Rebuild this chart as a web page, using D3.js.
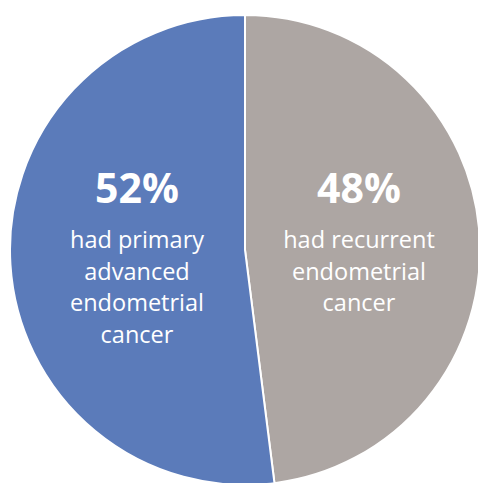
<!DOCTYPE html>
<html><head><meta charset="utf-8">
<script src="https://cdn.jsdelivr.net/npm/d3@7"></script>
<style>body{margin:0;background:#fff}svg{display:block}</style>
</head><body>
<svg id="c" width="478" height="483"></svg>
<script>
const categories = ["had recurrent endometrial cancer", "had primary advanced endometrial cancer"];
const values = [48, 52];
const pctLabels = ["48%", "52%"];
const descLines = [["had recurrent", "endometrial", "cancer"], ["had primary", "advanced", "endometrial", "cancer"]];
const colors = ["#ada6a3", "#5b7bba"];

const svg = d3.select("#c");
const cx = 245, cy = 250, r = 235;
const g = svg.append("g").attr("transform", `translate(${cx},${cy})`);
const pie = d3.pie().sort(null).value(d => d)(values);
const arc = d3.arc().innerRadius(0).outerRadius(r);
g.selectAll("path").data(pie).enter().append("path")
  .attr("d", arc).attr("fill", (d, i) => colors[i])
  .attr("stroke", "#fff").attr("stroke-width", 2);

const labelPos = [[114, -47], [-108, -47]];
const font = "'Open Sans', 'Noto Sans', sans-serif";
pie.forEach((d, i) => {
  const [lx, ly] = labelPos[i];
  const t = g.append("g").attr("transform", `translate(${lx},${ly})`);
  t.append("text").attr("text-anchor", "middle").attr("fill", "#fff")
    .attr("font-family", font).attr("font-weight", "bold").attr("font-size", 41)
    .text(pctLabels[i]);
  descLines[i].forEach((ln, j) => {
    t.append("text").attr("text-anchor", "middle").attr("fill", "#fff")
      .attr("font-family", font).attr("font-size", 23.5)
      .attr("y", 45 + j * 31.5).text(ln);
  });
});
</script>
</body></html>
